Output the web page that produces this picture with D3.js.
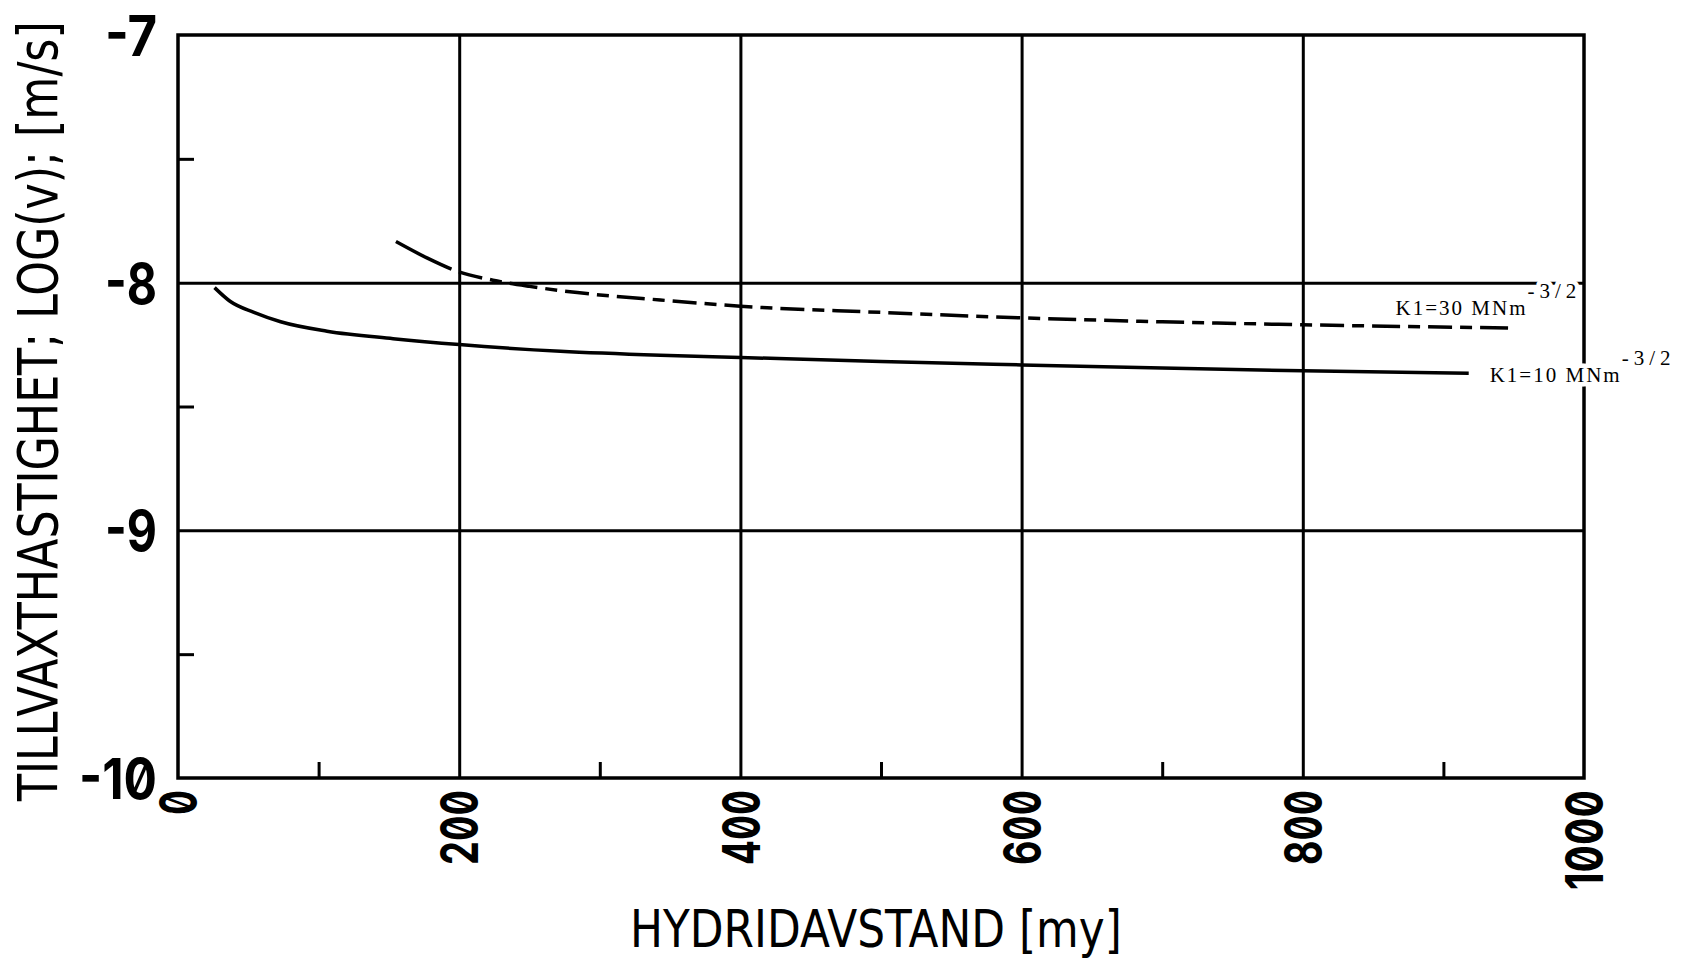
<!DOCTYPE html>
<html>
<head>
<meta charset="utf-8">
<script src="https://cdn.jsdelivr.net/npm/d3@7"></script>
<style>
    body { margin: 0; background: #fff; }
    .plot-font { font-family: 'DejaVu Sans', sans-serif; fill: #000; }
    .tick-font { font-family: Inter, 'DejaVu Sans', sans-serif; font-weight: 700; font-feature-settings: "zero" 1; fill: #000; }
    .curve-label { font-family: 'Liberation Serif', serif; font-size: 21px; letter-spacing: 2px; fill: #000;
        stroke: #fff; stroke-width: 9px; paint-order: stroke; stroke-linejoin: round; }
</style>
</head>
<body>
<div id="chart"></div>
<script>
// axis ticks
var xTicks = [0, 200, 400, 600, 800, 1000];
var xMinorTicks = [100, 300, 500, 700, 900];
var xGrid = [200, 400, 600, 800];
var yTicks = [-10, -9, -8, -7];
var yMinorTicks = [-9.5, -8.5, -7.5];
var yGrid = [-9, -8];

// K1 = 10 MNm^-3/2 (solid)
var k10X = [26, 37, 54, 73, 106, 153, 200, 272, 343, 400, 500, 600, 700, 800, 918];
var k10Y = [-8.02, -8.075, -8.12, -8.158, -8.196, -8.226, -8.25, -8.277, -8.293, -8.302, -8.318, -8.332, -8.345, -8.356, -8.366];

// K1 = 30 MNm^-3/2 (dashed)
var k30X = [155, 177, 199, 224, 250, 284, 343, 400, 500, 600, 700, 800, 947];
var k30Y = [-7.834, -7.9, -7.955, -7.99, -8.015, -8.04, -8.07, -8.095, -8.12, -8.142, -8.158, -8.17, -8.183];

var margin = { top: 35, right: 104, bottom: 188, left: 178 };
var width = 1688 - margin.left - margin.right;
var height = 966 - margin.top - margin.bottom;

var svg = d3.select('#chart')
    .append('svg')
    .attr('width', 1688)
    .attr('height', 966)
    .append('g')
    .attr('transform', "translate(" + margin.left + "," + margin.top + ")");

var x = d3.scaleLinear().domain([0, 1000]).range([0, width]);
var y = d3.scaleLinear().domain([-10, -7]).range([height, 0]);

function strip(g) {
    g.select('.domain').remove();
    g.selectAll('line').attr('stroke', '#000').attr('stroke-width', 3);
}

// grid lines
svg.append('g')
    .attr('transform', "translate(0," + height + ")")
    .call(d3.axisBottom(x).tickValues(xGrid).tickSize(-height).tickFormat(''))
    .call(strip);

svg.append('g')
    .call(d3.axisLeft(y).tickValues(yGrid).tickSize(-width).tickFormat(''))
    .call(strip);

// minor ticks, pointing inwards
svg.append('g')
    .attr('transform', "translate(0," + height + ")")
    .call(d3.axisBottom(x).tickValues(xMinorTicks).tickSize(-16).tickFormat(''))
    .call(strip);

svg.append('g')
    .call(d3.axisLeft(y).tickValues(yMinorTicks).tickSize(-16).tickFormat(''))
    .call(strip);

// frame
svg.append('rect')
    .attr('x', 0)
    .attr('y', 0)
    .attr('width', width)
    .attr('height', height)
    .attr('fill', 'none')
    .attr('stroke', '#000')
    .attr('stroke-width', 3.5);

// y tick labels
var yAxis = svg.append('g')
    .call(d3.axisLeft(y).tickValues(yTicks).tickSize(0).tickPadding(21).tickFormat(function(d) { return String(d); }));
yAxis.select('.domain').remove();
yAxis.selectAll('text')
    .attr('class', 'tick-font')
    .attr('dy', '0.36em')
    .style('font-size', '57px')
    .attr('textLength', function(d) { return String(d).length * 26; })
    .attr('lengthAdjust', 'spacingAndGlyphs');

// x tick labels, rotated
var xAxis = svg.append('g')
    .attr('transform', "translate(0," + height + ")")
    .call(d3.axisBottom(x).tickValues(xTicks).tickSize(0).tickFormat(function(d) { return String(d); }));
xAxis.select('.domain').remove();
xAxis.selectAll('text')
    .attr('class', 'tick-font')
    .attr('transform', 'rotate(-90)')
    .attr('x', -12)
    .attr('y', 0)
    .attr('dy', '0.36em')
    .style('text-anchor', 'end')
    .style('font-size', '52px')
    .attr('textLength', function(d) { return String(d).length * 25; })
    .attr('lengthAdjust', 'spacingAndGlyphs');

// axis titles, squeezed horizontally to the plotter's narrow lettering
function squeeze(text, wanted) {
    var natural = text.node().getComputedTextLength();
    return wanted / natural;
}

var xTitle = svg.append('text')
    .attr('class', 'plot-font')
    .style('font-size', '51px')
    .text('HYDRIDAVSTAND [my]');
xTitle.attr('transform', "translate(" + (630 - margin.left) + "," + (947 - margin.top) + ") scale(" + squeeze(xTitle, 492) + ",1)");

var yTitle = svg.append('text')
    .attr('class', 'plot-font')
    .style('font-size', '55px')
    .text('TILLVAXTHASTIGHET; LOG(v); [m/s]');
yTitle.attr('transform', "translate(" + (57 - margin.left) + "," + (801 - margin.top) + ") rotate(-90) scale(" + squeeze(yTitle, 780) + ",1)");

// curves
var line = d3.line()
    .x(function(d) { return x(d[0]); })
    .y(function(d) { return y(d[1]); })
    .curve(d3.curveMonotoneX);

svg.append('path')
    .datum(d3.zip(k10X, k10Y))
    .attr('d', line)
    .attr('fill', 'none')
    .attr('stroke', '#000')
    .attr('stroke-width', 3.5);

svg.append('path')
    .datum(d3.zip(k30X, k30Y))
    .attr('d', line)
    .attr('fill', 'none')
    .attr('stroke', '#000')
    .attr('stroke-width', 3.5)
    .attr('stroke-dasharray', '62,8,24,8,12,8,28,8,12,8,24,8,12,8,28,8,12,8,24,8,12,8,28,8,12,8,24,8,12,8,28,8,12,8,24,8,12,8,28,8,12,8,24,8,12,8,28,8,12,8,24,8,12,8,28,8,12,8,24,8,12,8,28,8,12,8,24,8,12,8,28,8,12,8,24,8,12,8,28,8,12,8,24,8,12,8,28,8');

// curve labels
var lab30 = svg.append('text')
    .attr('class', 'curve-label')
    .attr('x', x(866))
    .attr('y', y(-8.129));
lab30.append('tspan').text('K1=30 MNm');
lab30.append('tspan').attr('dy', -17).style('letter-spacing', '5px').text('-3/2');

var lab10 = svg.append('text')
    .attr('class', 'curve-label')
    .attr('x', x(k10X[k10X.length - 1]) + 21)
    .attr('y', y(k10Y[k10Y.length - 1]) + 9);
lab10.append('tspan').text('K1=10 MNm');
lab10.append('tspan').attr('dy', -17).style('letter-spacing', '5px').text('-3/2');
</script>
</body>
</html>
